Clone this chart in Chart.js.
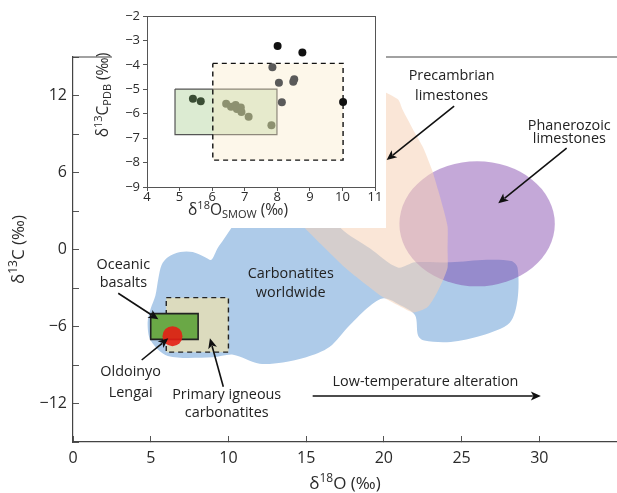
<!DOCTYPE html>
<html>
<head>
<meta charset="utf-8">
<script src="https://cdn.jsdelivr.net/npm/chart.js@4.4.1/dist/chart.umd.min.js"></script>
<style>
  body { margin: 0; background: #fff; }
  #wrap { position: relative; width: 617px; height: 493px; }
  #inset { position: absolute; left: 90px; top: 0; }
</style>
</head>
<body>
<div id="wrap">
  <canvas id="main" width="617" height="493"></canvas>
  <canvas id="inset" width="296" height="228"></canvas>
</div>
<script>
const FONT = '"Open Sans", "Noto Sans", sans-serif';
const INK = '#2b2b2b';

// main panel: d18O (x) against d13C (y)
const xTickValues = [0, 5, 10, 15, 20, 25, 30];
const yTickValues = [-12, -6, 0, 6, 12];

// carbonatites worldwide (outline, top part sits under the inset)
const carbonatiteO = [10.8, 16.9, 17.2, 19.1, 20.9, 22.0, 24.3, 26.6, 28.2, 28.6, 28.6, 28.1, 26.3, 24.3, 22.6, 22.2, 22.0, 21.0, 20.0, 19.1, 17.8, 16.5, 15.0, 13.5, 12.0, 10.3, 9.0, 6.1, 5.0, 4.8, 5.0, 5.3, 5.5, 5.7, 6.1, 6.9, 7.7, 8.5, 8.9, 9.3, 9.7, 10.2];
const carbonatiteC = [2.9, 2.9, 1.7, 0.1, -1.4, -1.0, -1.0, -0.8, -0.9, -1.4, -3.9, -5.7, -6.7, -7.2, -7.1, -6.7, -5.1, -4.3, -3.8, -4.4, -5.9, -7.6, -8.4, -8.8, -8.9, -8.2, -8.4, -8.3, -7.1, -5.7, -4.6, -3.6, -2.2, -1.2, -0.6, -0.2, -0.2, -0.6, -0.8, 0.1, 0.8, 1.7];

// precambrian limestones
const precambrianO = [18.5, 20.9, 21.2, 21.9, 22.5, 23.1, 23.5, 23.8, 24.1, 24.1, 24.1, 23.8, 23.4, 22.8, 21.9, 21.0, 19.8, 18.3, 17.5, 14.9, 14.0, 15.9];
const precambrianC = [13.2, 11.7, 10.9, 9.3, 8.0, 6.2, 4.6, 3.3, 1.8, 0.0, -1.4, -2.4, -3.4, -4.5, -4.9, -4.4, -3.6, -2.2, -1.4, 1.7, 3.1, 10.1];

// phanerozoic limestones (ellipse: centre and half axes)
const phanerozoicCentre = [26.0, 2.0];
const phanerozoicRadius = [5.0, 4.87];

const basaltBoxO = [5, 8.05];
const basaltBoxC = [-5, -7];
const igneousBoxO = [6, 10];
const igneousBoxC = [-3.75, -8];
const lengaiO = [6.4];
const lengaiC = [-6.75];

// inset panel
const insetXTicks = [4, 5, 6, 7, 8, 9, 10, 11];
const insetYTicks = [-9, -8, -7, -6, -5, -4, -3, -2];
const insetBasaltBoxO = [4.86, 7.99];
const insetBasaltBoxC = [-4.99, -6.86];
const insetIgneousBoxO = [6.02, 10.02];
const insetIgneousBoxC = [-3.94, -7.9];
const blackO = [8.01, 8.77, 10.02];
const blackC = [-3.23, -3.49, -5.52];
const greyO = [7.85, 8.05, 8.49, 8.52, 8.14];
const greyC = [-4.1, -4.73, -4.69, -4.59, -5.53];
const basaltPtO = [5.41, 5.65];
const basaltPtC = [-5.39, -5.49];
const lengaiPtO = [6.43, 6.58, 6.72, 6.76, 6.88, 6.9, 7.12, 7.82];
const lengaiPtC = [-5.59, -5.71, -5.64, -5.81, -5.75, -5.93, -6.12, -6.47];

// labels and arrows of the main panel, in data units
const labels = [
  ['Precambrian', 24.36, 13.52], ['limestones', 24.36, 11.98],
  ['Phanerozoic', 31.93, 9.65], ['limestones', 31.93, 8.61],
  ['Carbonatites', 14.01, -1.93], ['worldwide', 14.01, -3.37],
  ['Oceanic', 3.24, -1.21], ['basalts', 3.24, -2.63],
  ['Oldoinyo', 3.71, -9.52], ['Lengai', 3.71, -11.16],
  ['Primary igneous', 9.89, -11.34], ['carbonatites', 9.89, -12.76],
  ['Low-temperature alteration', 22.68, -10.35]
];
const arrows = [
  [15.42, -11.42, 30.1, -11.42],
  [24.52, 11.18, 20.18, 6.97],
  [31.76, 7.89, 27.36, 3.6],
  [2.91, -3.41, 5.49, -5.44],
  [4.42, -8.61, 6.13, -6.92],
  [9.67, -10.69, 8.81, -6.92]
];

function pts(xs, ys) {
  return xs.map((v, i) => ({x: v, y: ys[i]}));
}
function box(xs, ys) {
  return pts([xs[0], xs[1], xs[1], xs[0], xs[0]], [ys[0], ys[0], ys[1], ys[1], ys[0]]);
}
function minus(v) {
  return v < 0 ? '\u2212' + Math.abs(v) : String(v);
}

function drawRich(ctx, parts, x, y, size, angle) {
  const small = Math.round(size * 0.68);
  ctx.save();
  ctx.translate(x, y);
  ctx.rotate(angle || 0);
  let total = 0;
  parts.forEach(p => {
    ctx.font = (p.sup || p.sub ? small : size) + 'px ' + FONT;
    p.w = ctx.measureText(p.t).width;
    total += p.w;
  });
  let cx = -total / 2;
  ctx.textBaseline = 'middle';
  ctx.textAlign = 'left';
  ctx.fillStyle = INK;
  parts.forEach(p => {
    ctx.font = (p.sup || p.sub ? small : size) + 'px ' + FONT;
    const dy = p.sup ? -size * 0.3 : (p.sub ? size * 0.28 : 0);
    ctx.fillText(p.t, cx, dy);
    cx += p.w;
  });
  ctx.restore();
}

function arrow(ctx, x0, y0, x1, y1) {
  const a = Math.atan2(y1 - y0, x1 - x0);
  const len = 10, half = 4.5;
  ctx.beginPath();
  ctx.moveTo(x0, y0);
  ctx.lineTo(x1 - Math.cos(a) * len * 0.8, y1 - Math.sin(a) * len * 0.8);
  ctx.stroke();
  ctx.beginPath();
  ctx.moveTo(x1, y1);
  ctx.lineTo(x1 - Math.cos(a) * len - Math.sin(a) * half, y1 - Math.sin(a) * len + Math.cos(a) * half);
  ctx.lineTo(x1 - Math.cos(a) * len * 0.75, y1 - Math.sin(a) * len * 0.75);
  ctx.lineTo(x1 - Math.cos(a) * len + Math.sin(a) * half, y1 - Math.sin(a) * len - Math.cos(a) * half);
  ctx.closePath();
  ctx.fill();
}

const BLUE = 4;

const mainDecor = {
  id: 'mainDecor',
  afterDatasetDraw(chart, args) {
    if (args.index !== BLUE) return;
    const {x, y} = chart.scales;
    const ctx = chart.ctx;
    const cx = x.getPixelForValue(phanerozoicCentre[0]);
    const cy = y.getPixelForValue(phanerozoicCentre[1]);
    const rx = x.getPixelForValue(phanerozoicCentre[0] + phanerozoicRadius[0]) - cx;
    const ry = cy - y.getPixelForValue(phanerozoicCentre[1] + phanerozoicRadius[1]);
    ctx.save();
    ctx.fillStyle = 'rgba(121,57,166,0.44)';
    ctx.beginPath();
    ctx.ellipse(cx, cy, rx, ry, 0, 0, Math.PI * 2);
    ctx.fill();
    ctx.restore();
  },
  afterDatasetsDraw(chart) {
    const {x, y} = chart.scales;
    const ctx = chart.ctx;
    ctx.save();
    ctx.fillStyle = '#222';
    ctx.font = '14.4px ' + FONT;
    ctx.textAlign = 'center';
    ctx.textBaseline = 'middle';
    labels.forEach(l => ctx.fillText(l[0], x.getPixelForValue(l[1]), y.getPixelForValue(l[2])));
    ctx.strokeStyle = '#111';
    ctx.fillStyle = '#111';
    ctx.lineWidth = 1.6;
    arrows.forEach(a => arrow(ctx, x.getPixelForValue(a[0]), y.getPixelForValue(a[1]),
      x.getPixelForValue(a[2]), y.getPixelForValue(a[3])));
    ctx.restore();
  },
  afterDraw(chart) {
    const ctx = chart.ctx;
    const area = chart.chartArea;
    ctx.save();
    ctx.strokeStyle = '#444';
    ctx.lineWidth = 1.2;
    ctx.beginPath();
    ctx.moveTo(area.left, area.top);
    ctx.lineTo(area.right, area.top);
    ctx.stroke();
    ctx.restore();
    drawRich(ctx, [{t: 'δ'}, {t: '18', sup: true}, {t: 'O (‰)'}], (area.left + area.right) / 2, area.bottom + 42, 17);
    drawRich(ctx, [{t: 'δ'}, {t: '13', sup: true}, {t: 'C (‰)'}], 19, (area.top + area.bottom) / 2, 17, -Math.PI / 2);
  }
};

const polyStyle = {showLine: true, fill: 'shape', pointRadius: 0, borderWidth: 0, borderColor: 'rgba(0,0,0,0)'};

new Chart(document.getElementById('main'), {
  type: 'scatter',
  data: {
    datasets: [
      {label: 'Oldoinyo Lengai', data: pts(lengaiO, lengaiC), pointRadius: 10, pointBorderWidth: 0,
        pointBackgroundColor: 'rgba(228,30,20,0.9)', order: 0},
      {label: 'Oceanic basalts', data: box(basaltBoxO, basaltBoxC), showLine: true, fill: 'shape', pointRadius: 0,
        backgroundColor: '#6aa846', borderColor: '#222', borderWidth: 1.6, order: 1},
      {label: 'Primary igneous carbonatites', data: box(igneousBoxO, igneousBoxC), showLine: true, fill: 'shape', pointRadius: 0,
        backgroundColor: '#dcdbbe', borderColor: '#222', borderWidth: 1.4, borderDash: [5, 4], order: 2},
      Object.assign({label: 'Precambrian limestones', data: pts(precambrianO, precambrianC),
        backgroundColor: 'rgba(246,210,182,0.55)', tension: 0.2, order: 3}, polyStyle),
      Object.assign({label: 'Carbonatites worldwide', data: pts(carbonatiteO, carbonatiteC),
        backgroundColor: '#aecbe9', tension: 0.3, order: 4}, polyStyle)
    ]
  },
  options: {
    responsive: false,
    animation: false,
    events: [],
    layout: {autoPadding: false, padding: {top: 57, right: 0, bottom: 0, left: 0}},
    plugins: {legend: {display: false}, tooltip: {enabled: false}},
    scales: {
      x: {
        type: 'linear', min: 0, max: 35,
        afterFit: s => { s.height = 51; s.paddingLeft = 0; s.paddingRight = 0; },
        grid: {drawOnChartArea: false, tickLength: -6, tickColor: '#555'},
        border: {color: '#444', width: 1.2},
        ticks: {stepSize: 5, padding: 13, color: INK, font: {family: FONT, size: 16}, maxRotation: 0, autoSkip: false,
          callback: v => xTickValues.includes(v) ? String(v) : ''}
      },
      y: {
        type: 'linear', min: -15, max: 15,
        afterFit: s => { s.width = 73; s.paddingTop = 0; s.paddingBottom = 0; },
        grid: {drawOnChartArea: false, tickLength: -6, tickColor: '#555'},
        border: {color: '#444', width: 1.2},
        ticks: {stepSize: 3, padding: 12, color: INK, font: {family: FONT, size: 16}, autoSkip: false,
          callback: v => yTickValues.includes(v) ? minus(v) : ''}
      }
    }
  },
  plugins: [mainDecor]
});

const insetDecor = {
  id: 'insetDecor',
  beforeDraw(chart) {
    const ctx = chart.ctx;
    ctx.save();
    ctx.fillStyle = '#fff';
    ctx.fillRect(22, 0, chart.width - 22, chart.height);
    ctx.restore();
  },
  afterDraw(chart) {
    const ctx = chart.ctx;
    const a = chart.chartArea;
    ctx.save();
    ctx.strokeStyle = '#555';
    ctx.lineWidth = 1;
    ctx.strokeRect(a.left + 0.5, a.top + 0.5, a.right - a.left, a.bottom - a.top);
    ctx.restore();
    drawRich(ctx, [{t: 'δ'}, {t: '18', sup: true}, {t: 'O'}, {t: 'SMOW', sub: true}, {t: ' (‰)'}], 148, 211, 15.5);
    drawRich(ctx, [{t: 'δ'}, {t: '13', sup: true}, {t: 'C'}, {t: 'PDB', sub: true}, {t: ' (‰)'}], 14, 95, 15.5, -Math.PI / 2);
  }
};

const dot = (data, color, order) => ({data: data, pointRadius: 4, pointBorderWidth: 0, pointBackgroundColor: color, order: order});

new Chart(document.getElementById('inset'), {
  type: 'scatter',
  data: {
    datasets: [
      dot(pts(blackO, blackC), '#111', 0),
      dot(pts(greyO, greyC), '#5a5a5a', 1),
      dot(pts(basaltPtO, basaltPtC), '#3a4d34', 2),
      dot(pts(lengaiPtO, lengaiPtC), '#8d9170', 3),
      {data: box(insetIgneousBoxO, insetIgneousBoxC), showLine: true, fill: 'shape', pointRadius: 0,
        backgroundColor: 'rgba(249,232,195,0.35)', borderColor: '#111', borderWidth: 1.4, borderDash: [5, 4], order: 4},
      {data: box(insetBasaltBoxO, insetBasaltBoxC), showLine: true, fill: 'shape', pointRadius: 0,
        backgroundColor: 'rgba(155,198,126,0.35)', borderColor: '#555', borderWidth: 1.2, order: 5}
    ]
  },
  options: {
    responsive: false,
    animation: false,
    events: [],
    layout: {autoPadding: false, padding: {top: 16, right: 11, bottom: 0, left: 0}},
    plugins: {legend: {display: false}, tooltip: {enabled: false}},
    scales: {
      x: {
        type: 'linear', min: 4, max: 11,
        afterFit: s => { s.height = 41; },
        grid: {drawOnChartArea: false, tickLength: 4, tickColor: '#555'},
        border: {display: false},
        ticks: {stepSize: 1, padding: 0, color: INK, font: {family: FONT, size: 13, lineHeight: 1}, maxRotation: 0, autoSkip: false,
          callback: v => insetXTicks.includes(v) ? String(v) : ''}
      },
      y: {
        type: 'linear', min: -9, max: -2,
        afterFit: s => { s.width = 57; },
        grid: {drawOnChartArea: false, tickLength: 4, tickColor: '#555'},
        border: {display: false},
        ticks: {stepSize: 1, padding: 3, color: INK, font: {family: FONT, size: 13}, autoSkip: false,
          callback: v => insetYTicks.includes(v) ? minus(v) : ''}
      }
    }
  },
  plugins: [insetDecor]
});
</script>
</body>
</html>
